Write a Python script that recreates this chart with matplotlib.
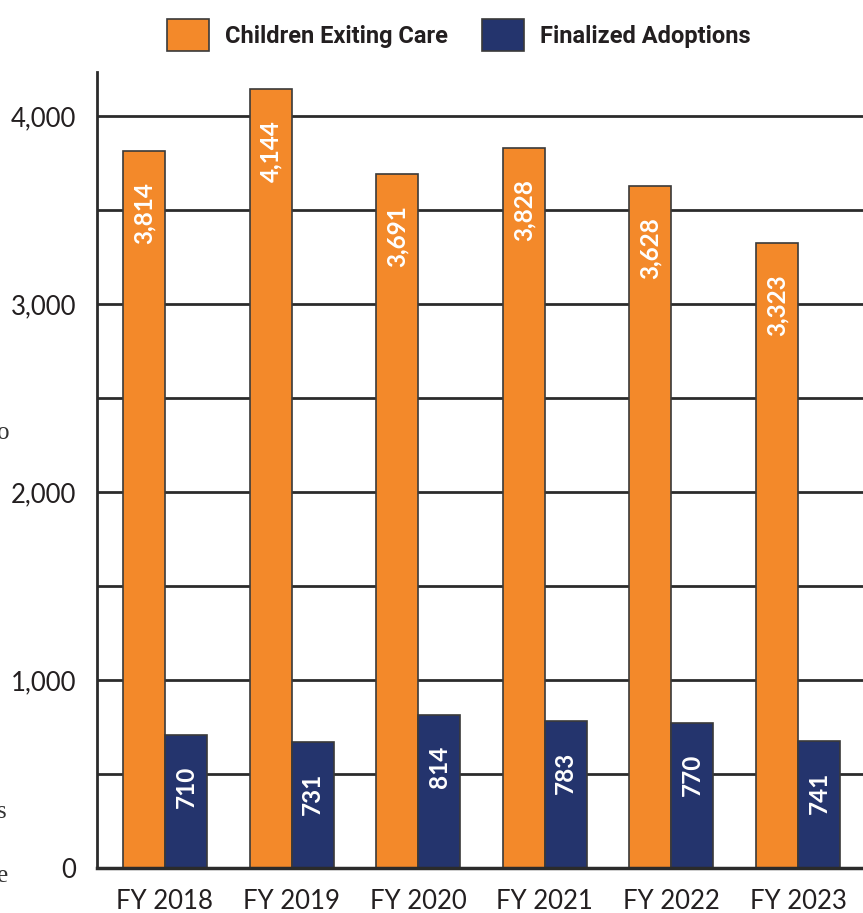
import matplotlib
matplotlib.use("Agg")
import matplotlib.pyplot as plt
from matplotlib import font_manager
import numpy as np

# chart data
years = ["FY 2018", "FY 2019", "FY 2020", "FY 2021", "FY 2022", "FY 2023"]
exiting_care = [3814, 4144, 3691, 3828, 3628, 3323]
adoption_labels = [710, 731, 814, 783, 770, 741]
# bar heights as drawn in the picture (two bars do not match their labels)
adoption_heights = [710, 670, 814, 783, 770, 676]
y_ticks = [0, 1000, 2000, 3000, 4000]
grid_levels = [500, 1000, 1500, 2000, 2500, 3000, 3500, 4000]

orange = "#F3892A"
navy = "#24346D"
ink = "#231F20"

names = {f.name for f in font_manager.fontManager.ttflist}
body_font = "Lato" if "Lato" in names else "DejaVu Sans"
legend_font = "Liberation Sans Narrow" if "Liberation Sans Narrow" in names else "Roboto"

W, H = 863, 913
fig = plt.figure(figsize=(W / 100, H / 100), dpi=100)
ax = fig.add_axes([97 / W, 45 / H, 766 / W, (868 - 72) / H])

x = np.arange(len(years))
w = 0.332
b1 = ax.bar(x - w / 2, exiting_care, w, color=orange, edgecolor="#3a3a3a",
            linewidth=1.2, zorder=3, label="Children Exiting Care")
b2 = ax.bar(x + w / 2, adoption_heights, w, color=navy, edgecolor="#3a3a3a",
            linewidth=1.2, zorder=3, label="Finalized Adoptions")

for lvl in grid_levels:
    ax.axhline(lvl, color="#2b2b2b", linewidth=2, zorder=1)

# value labels, rotated, near top of bars
for bars, labels in [(b1, exiting_care), (b2, adoption_labels)]:
    for rect, v in zip(bars, labels):
        ax.annotate(f"{v:,}", (rect.get_x() + rect.get_width() / 2, rect.get_height()),
                    xytext=(0, -31), textcoords="offset pixels", rotation=90,
                    ha="center", va="top", color="white", fontsize=17.5,
                    family=body_font, weight="bold", zorder=4)

ax.set_xlim(-0.537, 5.513)
ax.set_ylim(0, 4234)
ax.set_yticks(y_ticks)
ax.set_yticklabels([f"{t:,}" for t in y_ticks], family=body_font, fontsize=18.5, color=ink)
ax.set_xticks(x)
ax.set_xticklabels(years, family=body_font, fontsize=18.5, color=ink)
ax.tick_params(axis="y", length=0, pad=15)
ax.tick_params(axis="x", length=0, pad=15)

for side in ["top", "right"]:
    ax.spines[side].set_visible(False)
ax.spines["left"].set_linewidth(2)
ax.spines["left"].set_color("#2b2b2b")
ax.spines["bottom"].set_linewidth(2.5)
ax.spines["bottom"].set_color("#2b2b2b")
ax.spines["bottom"].set_zorder(5)

leg = fig.legend(handles=[b1, b2], loc="center", bbox_to_anchor=(459 / W, 1 - 35 / H),
                 ncol=2, frameon=False, handlelength=1.75, handleheight=1.75,
                 handletextpad=0.7, columnspacing=1.45,
                 prop={"family": legend_font, "weight": "bold", "size": 17})
for t in leg.get_texts():
    t.set_color(ink)

# clipped text from the neighbouring page column
for ch, yy in [("o", 433), ("s", 812), ("e", 876)]:
    fig.text(-3 / W, 1 - yy / H, ch, family="Liberation Serif", fontsize=18,
             color="#333333", va="center", ha="left")

fig.savefig("out.png", dpi=100)
